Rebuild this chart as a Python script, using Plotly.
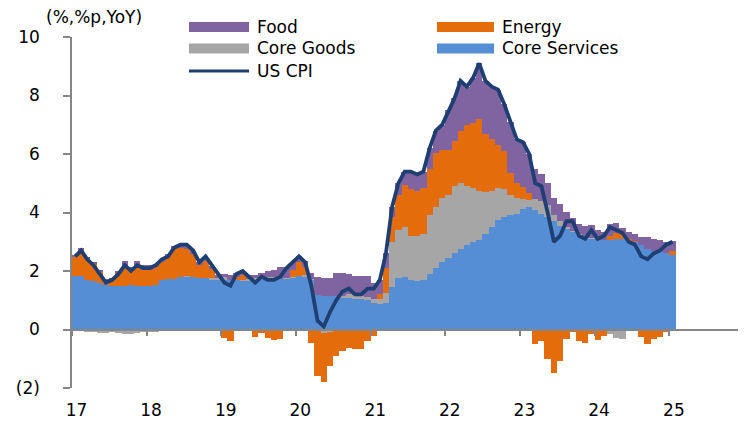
import pandas as pd
import plotly.graph_objects as go

# ---------------- data (contributions, %p YoY) ----------------
months = pd.date_range("2017-01-01", periods=97, freq="MS").strftime("%Y-%m-%d").tolist()

core_services = [
    1.82, 1.83, 1.70, 1.65, 1.58, 1.52, 1.50, 1.50, 1.50, 1.52, 1.50, 1.50,
    1.50, 1.52, 1.68, 1.72, 1.74, 1.78, 1.80, 1.78, 1.75, 1.75, 1.72, 1.72,
    1.72, 1.70, 1.70, 1.68, 1.68, 1.70, 1.72, 1.72, 1.74, 1.72, 1.75, 1.78,
    1.82, 1.82, 1.70, 1.19, 1.14, 1.14, 1.14, 1.10, 1.08, 1.05, 1.05, 1.00,
    0.92, 0.88, 0.90, 1.45, 1.75, 1.78, 1.68, 1.65, 1.70, 1.90, 2.10, 2.30,
    2.45, 2.60, 2.75, 2.90, 3.00, 3.07, 3.25, 3.50, 3.75, 3.85, 3.90, 3.95,
    4.12, 4.18, 4.10, 3.95, 3.85, 3.70, 3.55, 3.45, 3.35, 3.25, 3.20, 3.10,
    3.05, 3.05, 3.05, 3.10, 3.10, 3.05, 3.00, 2.90, 2.75, 2.70, 2.65, 2.62,
    2.55,
]
core_goods = [
    -0.05, -0.05, -0.08, -0.10, -0.12, -0.12, -0.10, -0.12, -0.15, -0.15, -0.12, -0.10,
    -0.10, -0.08, -0.06, -0.06, -0.05, 0.00, 0.04, 0.00, -0.04, 0.00, 0.04, 0.04,
    0.06, 0.00, -0.02, 0.02, 0.06, 0.06, 0.06, 0.06, 0.04, 0.00, 0.02, 0.02,
    0.00, 0.03, 0.03, -0.05, -0.12, -0.10, -0.05, 0.05, 0.12, 0.12, 0.10, 0.10,
    0.12, 0.15, 0.35, 1.55, 1.65, 1.72, 1.52, 1.55, 1.55, 2.00, 2.10, 2.20,
    2.15, 2.30, 2.25, 2.00, 1.85, 1.68, 1.45, 1.25, 1.10, 0.95, 0.70, 0.55,
    0.35, 0.25, 0.35, 0.45, 0.40, 0.20, 0.15, 0.05, 0.03, 0.03, 0.00, 0.02,
    0.00, 0.00, -0.15, -0.28, -0.34, -0.05, -0.02, 0.00, 0.00, 0.00, 0.00, -0.02,
    0.00,
]
energy = [
    0.68, 0.90, 0.72, 0.60, 0.40, 0.17, 0.22, 0.45, 0.70, 0.50, 0.68, 0.55,
    0.55, 0.60, 0.62, 0.75, 1.02, 1.00, 0.92, 0.80, 0.45, 0.60, 0.30, 0.00,
    -0.30, -0.38, 0.08, 0.16, -0.06, -0.24, -0.13, -0.30, -0.35, -0.32, -0.05, 0.22,
    0.50, 0.28, -0.45, -1.54, -1.69, -1.14, -0.86, -0.74, -0.63, -0.68, -0.68, -0.40,
    -0.22, 0.20, 0.85, 0.85, 1.20, 1.45, 1.60, 1.55, 1.60, 1.60, 1.85, 1.65,
    1.55, 1.55, 1.80, 2.10, 2.20, 2.45, 2.00, 1.75, 1.45, 1.30, 0.75, 0.50,
    0.40, 0.25, -0.48, -0.40, -1.02, -1.48, -1.08, -0.33, -0.10, -0.40, -0.45, -0.17,
    -0.36, -0.23, 0.15, 0.20, 0.15, 0.05, 0.03, -0.25, -0.48, -0.31, -0.25, -0.05,
    0.12,
]
food = [
    0.05, 0.05, 0.05, 0.05, 0.04, 0.04, 0.05, 0.06, 0.15, 0.12, 0.15, 0.15,
    0.15, 0.13, 0.10, 0.10, 0.10, 0.10, 0.12, 0.10, 0.10, 0.10, 0.12, 0.12,
    0.12, 0.18, 0.14, 0.14, 0.12, 0.12, 0.15, 0.22, 0.27, 0.40, 0.38, 0.28,
    0.20, 0.20, 0.20, 0.61, 0.62, 0.62, 0.79, 0.78, 0.70, 0.65, 0.67, 0.72,
    0.56, 0.47, 0.50, 0.35, 0.40, 0.45, 0.60, 0.55, 0.55, 0.70, 0.75, 0.85,
    1.35, 1.45, 1.70, 1.30, 1.55, 1.90, 1.80, 1.80, 1.90, 1.60, 1.75, 1.50,
    1.53, 1.32, 1.03, 0.90, 0.77, 0.58, 0.58, 0.53, 0.42, 0.32, 0.35, 0.45,
    0.35, 0.30, 0.40, 0.35, 0.22, 0.25, 0.22, 0.25, 0.40, 0.40, 0.40, 0.38,
    0.35,
]
us_cpi = [
    2.5, 2.7, 2.4, 2.2, 1.9, 1.6, 1.7, 1.9, 2.2, 2.0, 2.2, 2.1,
    2.1, 2.2, 2.4, 2.5, 2.8, 2.9, 2.9, 2.7, 2.3, 2.5, 2.2, 1.9,
    1.6, 1.5, 1.9, 2.0, 1.8, 1.6, 1.8, 1.7, 1.7, 1.8, 2.1, 2.3,
    2.5, 2.3, 1.5, 0.3, 0.1, 0.6, 1.0, 1.3, 1.4, 1.2, 1.2, 1.4,
    1.4, 1.7, 2.6, 4.2, 5.0, 5.4, 5.4, 5.3, 5.4, 6.2, 6.8, 7.0,
    7.5, 7.9, 8.5, 8.3, 8.6, 9.1, 8.5, 8.3, 8.2, 7.7, 7.1, 6.5,
    6.4, 6.0, 5.0, 4.9, 4.0, 3.0, 3.2, 3.7, 3.7, 3.2, 3.1, 3.4,
    3.1, 3.2, 3.5, 3.4, 3.3, 3.0, 2.9, 2.5, 2.4, 2.6, 2.7, 2.9,
    3.0,
]

year_ticks = ["2017-01-01", "2018-01-01", "2019-01-01", "2020-01-01", "2021-01-01",
              "2022-01-01", "2023-01-01", "2024-01-01", "2025-01-01"]
year_labels = ["17", "18", "19", "20", "21", "22", "23", "24", "25"]
y_ticks = [-2, 0, 2, 4, 6, 8, 10]
y_labels = ["(2)", "0", "2", "4", "6", "8", "10"]

# ---------------- styling ----------------
C_SERV = "#558ED5"
C_GOODS = "#A6A6A6"
C_ENERGY = "#E46C0A"
C_FOOD = "#8064A2"
C_CPI = "#1F3F73"
C_AXIS = "#868686"
FONT = "DejaVu Sans"

W, H = 746, 440
L, R, T, B = 64, 10, 29, 60
PW, PH = W - L - R, H - T - B
OFF = 8  # page body margin offset


def px(xw):
    return (xw - OFF - L) / PW


def py(yw):
    return (H - B - (yw - OFF)) / PH


bar_w = 31 * 24 * 3600 * 1000  # one month in ms

fig = go.Figure()
for name, vals, col in [("Core Services", core_services, C_SERV),
                        ("Core Goods", core_goods, C_GOODS),
                        ("Energy", energy, C_ENERGY),
                        ("Food", food, C_FOOD)]:
    fig.add_trace(go.Bar(
        x=months, y=vals, name=name, marker=dict(color=col, line=dict(width=0)),
        xperiod="M1", xperiodalignment="middle", width=bar_w, showlegend=False,
    ))

fig.add_trace(go.Scatter(
    x=months, y=us_cpi, name="US CPI", mode="lines", xaxis="x2", yaxis="y",
    line=dict(color=C_CPI, width=3.8), xperiod="M1", xperiodalignment="middle",
    showlegend=False,
))

# ---------------- custom legend (wide swatches) ----------------
shapes = []
annotations = []
legend_items = [
    ("Food", C_FOOD, 189, 249, 27, "rect"),
    ("Energy", C_ENERGY, 437, 494, 27, "rect"),
    ("Core Goods", C_GOODS, 189, 249, 48.5, "rect"),
    ("Core Services", C_SERV, 437, 494, 48.5, "rect"),
    ("US CPI", C_CPI, 189, 249, 71, "line"),
]
for label, col, x0, x1, yc, kind in legend_items:
    if kind == "rect":
        shapes.append(dict(type="rect", xref="paper", yref="paper",
                           x0=px(x0), x1=px(x1), y0=py(yc + 5), y1=py(yc - 5),
                           fillcolor=col, line=dict(width=0), layer="above"))
    else:
        shapes.append(dict(type="line", xref="paper", yref="paper",
                           x0=px(x0), x1=px(x1), y0=py(yc), y1=py(yc),
                           line=dict(color=col, width=3), layer="above"))
    annotations.append(dict(text=label, xref="paper", yref="paper",
                            x=px(x1 + 6), y=py(yc), xanchor="left", yanchor="middle",
                            showarrow=False, font=dict(family=FONT, size=17, color="#000000")))

annotations.append(dict(text="(%,%p,YoY)", xref="paper", yref="paper",
                        x=px(94), y=py(17.5), xanchor="center", yanchor="middle",
                        showarrow=False, font=dict(family=FONT, size=17, color="#000000")))

fig.update_layout(
    width=W, height=H,
    margin=dict(l=L, r=R, t=T, b=B, autoexpand=False),
    paper_bgcolor="white", plot_bgcolor="white",
    barmode="relative", bargap=0,
    font=dict(family=FONT, size=17, color="#000000"),
    shapes=shapes, annotations=annotations,
    xaxis=dict(
        type="date", range=["2017-01-01", "2026-01-01"], automargin=False,
        tickmode="array", tickvals=[d[:8] + "23" for d in year_ticks], ticktext=year_labels,
        ticks="", showline=False, showgrid=False, zeroline=False,
        tickfont=dict(family=FONT, size=17, color="#000000"), ticklabelstandoff=10,
    ),
    xaxis2=dict(
        type="date", overlaying="x", matches="x", anchor="free", position=2 / 12,
        showline=True, linecolor=C_AXIS, linewidth=1.5, automargin=False,
        ticks="outside", ticklen=6, tickwidth=1.5, tickcolor=C_AXIS,
        tickmode="linear", tick0="2017-01-01", dtick="M12",
        showticklabels=False, showgrid=False, zeroline=False,
    ),
    yaxis=dict(
        range=[-2, 10], tickmode="array", tickvals=y_ticks, ticktext=y_labels,
        showline=True, linecolor=C_AXIS, linewidth=1.5, automargin=False,
        ticks="outside", ticklen=7, tickwidth=1.5, tickcolor=C_AXIS,
        showgrid=False, zeroline=False,
        tickfont=dict(family=FONT, size=17, color="#000000"), ticklabelstandoff=20,
    ),
)

fig.write_html("out.html")
